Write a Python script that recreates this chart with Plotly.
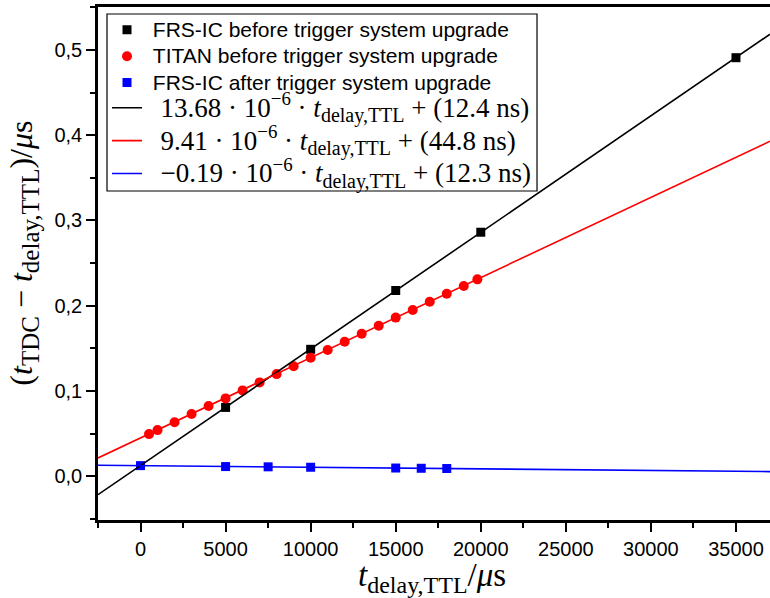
import plotly.graph_objects as go

# ---- data ----
frs_before_x = [5000, 10000, 15000, 20000, 35000]
frs_before_y = [0.0806, 0.1488, 0.2178, 0.2862, 0.4910]

titan_x = [500, 1000, 2000, 3000, 4000, 5000, 6000, 7000, 8000, 9000, 10000,
           11000, 12000, 13000, 14000, 15000, 16000, 17000, 18000, 19000, 19800]
titan_y = [0.0493, 0.0540, 0.0633, 0.0728, 0.0822, 0.0912, 0.1006, 0.1100,
           0.1197, 0.1290, 0.1389, 0.1480, 0.1577, 0.1670, 0.1765, 0.1860,
           0.1950, 0.2046, 0.2140, 0.2230, 0.2309]

frs_after_x = [0, 5000, 7500, 10000, 15000, 16500, 18000]
frs_after_y = [0.0123, 0.0112, 0.0109, 0.0104, 0.0095, 0.0092, 0.0089]

# fit parameters: slope (1e-6 per µs) and intercept (ns)
fit_slopes_e6 = [13.68, 9.41, -0.19]
fit_intercepts_ns = [12.4, 44.8, 12.3]
fit_colors = ["#000000", "#ff0000", "#0000ff"]

x_range = [-2500, 37000]
y_range = [-0.0515, 0.5505]
y_ticks = [0.0, 0.1, 0.2, 0.3, 0.4, 0.5]
y_ticktext = ["0,0", "0,1", "0,2", "0,3", "0,4", "0,5"]

SERIF = "Liberation Serif"
SANS = "Liberation Sans"
NB = "\u00a0"


def sans_label(t):
    return f'<span style="font-size:21px">{NB}{t}</span>'


fig = go.Figure()

fig.add_trace(go.Scatter(
    x=frs_before_x, y=frs_before_y, mode="markers",
    marker=dict(symbol="square", size=9, color="#000000"),
    name=sans_label("FRS-IC before trigger system upgrade"), legend="legend"))
fig.add_trace(go.Scatter(
    x=titan_x, y=titan_y, mode="markers",
    marker=dict(symbol="circle", size=10, color="#ff0000"),
    name=sans_label("TITAN before trigger system upgrade"), legend="legend"))
fig.add_trace(go.Scatter(
    x=frs_after_x, y=frs_after_y, mode="markers",
    marker=dict(symbol="square", size=9, color="#0000ff"),
    name=sans_label("FRS-IC after trigger system upgrade"), legend="legend"))

for s, b, c in zip(fit_slopes_e6, fit_intercepts_ns, fit_colors):
    ys = [s * 1e-6 * xv + b * 1e-3 for xv in x_range]
    sign = "−" if s < 0 else ""
    label = (f'<span style="font-family:{SERIF};font-size:27px">'
             f'{NB}{NB}{sign}{abs(s):.2f}{NB}·{NB}10<sup>−6</sup>{NB}·{NB}<i>t</i>'
             f'<sub><span style="font-size:20px">delay,TTL</span></sub>{NB}+{NB}({b:.1f}{NB}ns)</span>')
    fig.add_trace(go.Scatter(
        x=x_range, y=ys, mode="lines",
        line=dict(color=c, width=1.6), name=label, legend="legend2"))

x_title = ("<i>t</i><sub><span style=\"font-size:24px\">delay,TTL</span></sub>"
           "/<i>μ</i>s")
y_title = ("(<i>t</i><sub><span style=\"font-size:25px\">TDC</span></sub>"
           + NB + "−" + NB +
           "<i>t</i><sub><span style=\"font-size:25px\">delay,TTL</span></sub>)/<i>μ</i>s")

# legend frame, in plot-fraction coordinates
box_x = [0.0134, 0.6533]
box_y = [0.6413, 0.9864]

fig.update_layout(
    width=770, height=598,
    margin=dict(l=98, r=0, t=7, b=78),
    paper_bgcolor="white", plot_bgcolor="white",
    font=dict(family=SANS, size=20, color="black"),
    showlegend=True,
    legend=dict(
        x=box_x[0], y=0.991, xanchor="left", yanchor="top",
        bgcolor="rgba(0,0,0,0)", borderwidth=0,
        font=dict(family=SANS, size=18, color="black"),
        tracegroupgap=0, itemwidth=30),
    legend2=dict(
        x=box_x[0], y=0.8455, xanchor="left", yanchor="top",
        bgcolor="rgba(0,0,0,0)", borderwidth=0,
        font=dict(family=SERIF, size=23, color="black"),
        tracegroupgap=0, itemwidth=30),
    shapes=[dict(type="rect", xref="paper", yref="paper",
                 x0=box_x[0], x1=box_x[1], y0=box_y[0], y1=box_y[1],
                 line=dict(color="black", width=1.2), fillcolor="white",
                 layer="above")],
    annotations=[
        dict(text=x_title, xref="paper", yref="paper", x=0.497, y=-0.113,
             xanchor="center", yanchor="middle", showarrow=False,
             font=dict(family=SERIF, size=33, color="black")),
        dict(text=y_title, xref="paper", yref="paper", x=-0.111, y=0.52,
             xanchor="center", yanchor="middle", showarrow=False, textangle=-90,
             font=dict(family=SERIF, size=32, color="black")),
    ],
)

fig.update_xaxes(
    range=x_range, showgrid=False, zeroline=False, automargin=False,
    showline=True, linecolor="black", linewidth=2.5, mirror=True,
    ticks="outside", ticklen=9, tickwidth=2, tickcolor="black",
    tick0=0, dtick=5000, tickformat="d",
    minor=dict(ticks="outside", ticklen=5, tickwidth=2, tickcolor="black", dtick=2500, tick0=0),
    tickfont=dict(family=SANS, size=20),
)
fig.update_yaxes(
    range=y_range, showgrid=False, zeroline=False, automargin=False,
    showline=True, linecolor="black", linewidth=2.5, mirror=False,
    ticks="outside", ticklen=9, tickwidth=2, tickcolor="black",
    tickvals=y_ticks, ticktext=y_ticktext,
    minor=dict(ticks="outside", ticklen=5, tickwidth=2, tickcolor="black", dtick=0.05, tick0=0),
    tickfont=dict(family=SANS, size=20),
)

fig.write_html("out.html", config={"displayModeBar": False},
               post_script="document.body.style.margin='0px';")
